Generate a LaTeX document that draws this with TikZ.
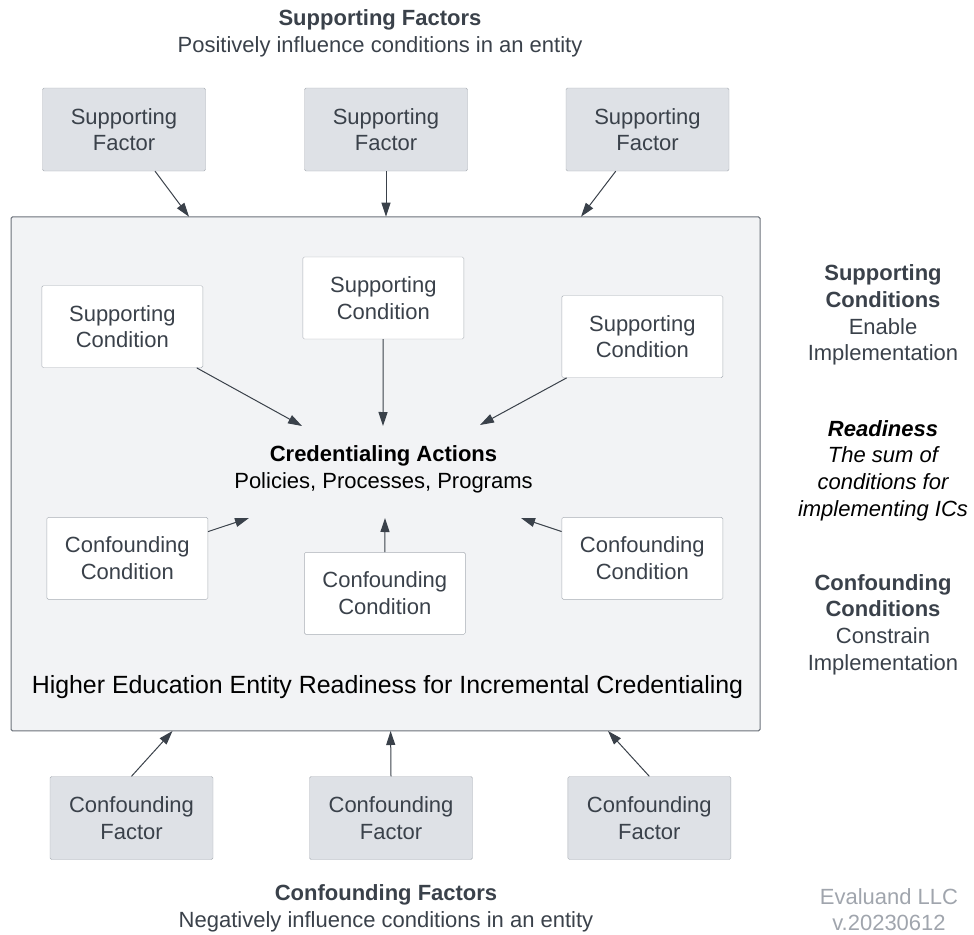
\documentclass[tikz,border=0pt]{standalone}
\usepackage{fontspec}
\setmainfont{Liberation Sans}
\usetikzlibrary{arrows.meta}
\definecolor{entityFill}{HTML}{F2F3F5}
\definecolor{entityDraw}{HTML}{6B717A}
\definecolor{factorFill}{HTML}{DEE1E6}
\definecolor{boxDraw}{HTML}{A9AEB5}
\definecolor{textGray}{HTML}{3A414A}
\definecolor{noteGray}{HTML}{A0A5AD}
\newcommand{\twoLines}[2]{#1\\#2}
\newcommand{\factorBox}[4]{%%
  \node[factorStyle] (#1) at (#2,#3) {\twoLines{#4}{Factor}};
}
\newcommand{\conditionBox}[4]{%%
  \node[conditionStyle] (#1) at (#2,#3) {\twoLines{#4}{Condition}};
}

\begin{document}
\begin{tikzpicture}[x=1pt,y=-1pt,%%
  font=\fontsize{22}{26.7}\selectfont,%%
  entityStyle/.style={draw=entityDraw,fill=entityFill,line width=1pt,minimum width=749pt,minimum height=514pt,rounded corners=1.5pt},%%
  factorStyle/.style={draw=boxDraw,fill=factorFill,text=textGray,align=center,minimum width=163pt,minimum height=83pt,inner sep=0pt,rounded corners=1.5pt},%%
  conditionStyle/.style={draw=boxDraw,fill=white,text=textGray,align=center,minimum width=161pt,minimum height=82pt,inner sep=0pt,rounded corners=1.5pt},%%
  arrowStyle/.style={-{Triangle[length=14pt,width=9pt]},draw=textGray,line width=1pt},%%
  noteStyle/.style={align=center,text=textGray,inner sep=0pt}
]
\useasboundingbox (0,0) rectangle (974,934);
%%
%% The entity.
\node[entityStyle] (entity) at (385.5,473.9) {};
\node[inner sep=0pt,font=\fontsize{24.9}{30}\selectfont] (entityName) at (387.5,686.7)
  {Higher Education Entity Readiness for Incremental Credentialing};
\node[align=center,inner sep=0pt] (actions) at (383.5,469)
  {\textbf{Credentialing Actions}\\Policies, Processes, Programs};
%%
%% Free ends of the connectors.
\coordinate (sf1End) at (189,216.7);
\coordinate (sf2End) at (386,216.7);
\coordinate (sf3End) at (581,216.7);
\coordinate (cf1End) at (172.5,731);
\coordinate (cf2End) at (390.6,731);
\coordinate (cf3End) at (608,731);
\coordinate (sc1End) at (302,426);
\coordinate (sc2End) at (383,426);
\coordinate (sc3End) at (480,425);
\coordinate (cc1End) at (249,518);
\coordinate (cc2End) at (385,518);
\coordinate (cc3End) at (521,518);
%%
%% Supporting and confounding factors.
\foreach \name/\x in {sf1/124,sf2/386,sf3/647.5}{
  \factorBox{\name}{\x}{129.5}{Supporting}
  \draw[arrowStyle] (\name) -- (\name End);
};
\foreach \name/\x in {cf1/131.5,cf2/391,cf3/649.3}{
  \factorBox{\name}{\x}{818}{Confounding}
  \draw[arrowStyle] (\name.north) -- (\name End);
};
%%
%% Conditions in the entity.
\conditionBox{sc1}{122.3}{326.7}{Supporting}
\conditionBox{sc2}{383.3}{298}{Supporting}
\conditionBox{sc3}{642.3}{336.7}{Supporting}
\conditionBox{cc1}{127.3}{558.3}{Confounding}
\conditionBox{cc2}{384.8}{593.3}{Confounding}
\conditionBox{cc3}{642.3}{558.3}{Confounding}
\foreach \name in {sc1,sc2,sc3,cc1,cc2,cc3}{
  \draw[arrowStyle] (\name) -- (\name End);
};
%%
%% Notes.
\node[noteStyle] (supportTitle) at (380,33.5)
  {\textbf{Supporting Factors}\\Positively influence conditions in an entity};
\node[noteStyle] (confoundTitle) at (386,908.5)
  {\textbf{Confounding Factors}\\Negatively influence conditions in an entity};
\node[noteStyle] (supportNote) at (883,315)
  {\textbf{Supporting}\\\textbf{Conditions}\\Enable\\Implementation};
\node[noteStyle,text=black,font=\fontsize{22}{26.7}\selectfont\itshape] (readyNote) at (883,470.5)
  {\textbf{Readiness}\\The sum of\\conditions for\\implementing ICs};
\node[noteStyle] (confoundNote) at (883,624.5)
  {\textbf{Confounding}\\\textbf{Conditions}\\Constrain\\Implementation};
\node[noteStyle,text=noteGray] (version) at (889,909.5)
  {Evaluand LLC\\v.20230612};
\end{tikzpicture}
\end{document}
